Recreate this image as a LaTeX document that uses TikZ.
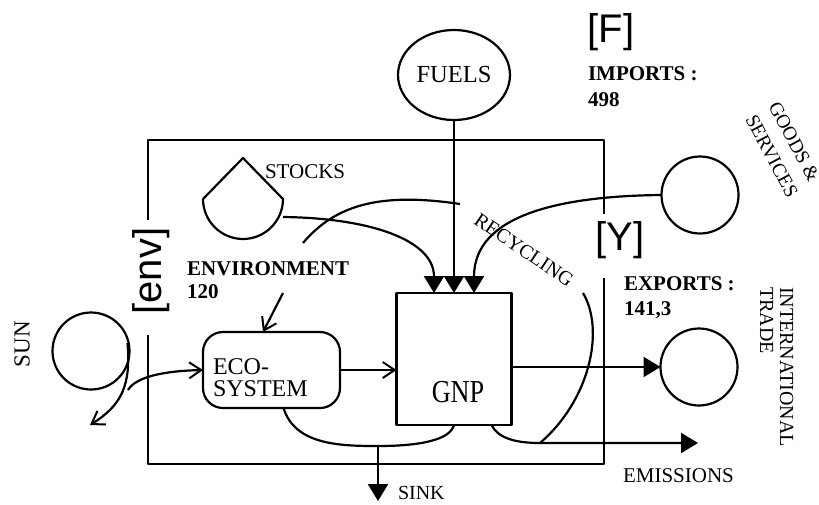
\documentclass[tikz,border=0pt]{standalone}
\usepackage{fontspec}
\usepackage{graphicx}
\setmainfont{Liberation Serif}
\newfontfamily\bracketfont{Liberation Sans}
\usetikzlibrary{arrows.meta,shapes.geometric,calc}
\tikzset{
  every node/.style={inner sep=0pt, outer sep=0pt},
  tri/.style={-{Triangle[length=17pt,width=20pt]}},
  barb/.style={-{Straight Barb[length=12pt,width=16pt,line width=2pt]}},
  rm/.style={font=\fontsize{21}{21}\selectfont},
  sm/.style={font=\fontsize{20}{20}\selectfont},
  bf/.style={font=\fontsize{21}{21}\selectfont\bfseries},
  brk/.style={font=\bracketfont\fontsize{40}{40}\selectfont},
  ring/.style={draw, circle, minimum size=77pt},
}
\begin{document}
\begin{tikzpicture}[x=1pt,y=-1pt,line width=2.2pt,line join=round]
\useasboundingbox (0,0) rectangle (819,504);

% environment boundary
\draw (148,220) -- (148,140) -- (604,140) -- (604,214);
\draw (604,278) -- (604,464) -- (148,464) -- (148,335);

% nodes
\node[draw, ellipse, minimum width=112pt, minimum height=90pt, font=\fontsize{24.5}{24.5}\selectfont] (fuels) at (454,75) {FUELS};
\node[ring] (goods) at (700,195) {};
\node[ring] (trade) at (699,367) {};
\node[ring] (sun) at (91,351) {};
\node[draw, rounded corners=20pt, minimum width=137pt, minimum height=76pt] (eco) at (271.5,370) {};
\node[draw, minimum width=115pt, minimum height=132pt] (gnp) at (454,359) {};

% stocks tank
\draw (203,199) -- (243,158) -- (283,199) .. controls (283,221) and (265,239) .. (243,239) .. controls (221,239) and (203,221) .. (203,199);
\coordinate (stockout) at (283,217);

% inputs to GNP
\coordinate (in1) at ($(gnp.north)+(-20,0)$);
\coordinate (in3) at ($(gnp.north)+(20,0)$);
\draw[tri] (stockout) .. controls (370,218) and (434,240) .. (in1);
\draw[tri] (fuels) -- (gnp.north);
\draw[tri] (goods.west) .. controls (560,196) and (474,215) .. (in3);

% recycling loop
\coordinate (recstart) at (303,243);
\coordinate (recmid) at (460,204);
\coordinate (rectop) at (583,293);
\coordinate (recend) at (540,443);
\draw (recstart) .. controls (335,205) and (380,192) .. (recmid);
\draw (rectop) .. controls (605,330) and (590,400) .. (recend);
\node[sm, rotate=-34] (recyc) at (524,250) {RECYCLING};

% emissions
\coordinate (emis0) at ($(gnp.south east)+(-20,0)$);
\coordinate (emisend) at (698,443);
\draw[tri] (emis0) .. controls (498,438) and (515,443) .. (recend) -- (emisend);

% exports
\draw[tri] (gnp.east |- trade.west) -- (trade.west);

% sink
\coordinate (sinkj) at (378,446);
\coordinate (sinkend) at (378,501);
\draw ($(eco.south)+(12,0)$) .. controls (295,445) and (340,446) .. (sinkj) .. controls (420,446) and (450,440) .. (gnp.south);
\draw[tri] (sinkj) -- (sinkend);

% eco to gnp, environment to eco
\draw[barb] (eco.east) -- (gnp.west |- eco.east);
\coordinate (envstart) at (283,293);
\coordinate (ecotop) at ($(eco.north)+(-8.5,0)$);
\draw[barb] (envstart) -- (ecotop);

% sun
\coordinate (sunout) at (90,425);
\coordinate (sunhook) at (128,390);
\draw[barb] ($(sun.east)+(-2,-8)$) .. controls (131,385) and (122,405) .. (sunout);
\draw[barb] (sunhook) .. controls (135,378) and (160,371) .. (eco.west);

% texts
\node[anchor=base west, font=\fontsize{24}{24}\selectfont] (ecot1) at (213,374) {ECO-};
\node[anchor=base west, font=\fontsize{24}{24}\selectfont] (ecot2) at (213,396) {SYSTEM};
\node[anchor=base, font=\fontsize{32}{32}\selectfont] (gnpt) at (458,402) {\scalebox{0.82}[1]{GNP}};
\node[rm, anchor=base west] (stockst) at (265,178) {STOCKS};
\node[bf, anchor=base west] (envt) at (187,275) {ENVIRONMENT};
\node[bf, anchor=base west] (envv) at (187,298) {120};
\node[bf, anchor=base west] (impt) at (588,80) {IMPORTS :};
\node[bf, anchor=base west] (impv) at (588,106) {498};
\node[bf, anchor=base west] (expt) at (624,290) {EXPORTS :};
\node[bf, anchor=base west] (expv) at (624,315) {141,3};
\node[rm, anchor=base west] (emist) at (623,482) {EMISSIONS};
\node[sm, anchor=base west] (sinkt) at (398,499) {SINK};
\node[font=\fontsize{23}{23}\selectfont, rotate=90] (sunt) at (22,344) {SUN};
\node[sm, rotate=-90, anchor=base west] (intl) at (780,287) {INTERNATIONAL};
\node[sm, rotate=-90, anchor=base west] (trd) at (760,287) {TRADE};
\node[font=\fontsize{19.5}{19.5}\selectfont, rotate=-62, anchor=base west] (goodst) at (768,106) {GOODS \&};
\node[font=\fontsize{19.5}{19.5}\selectfont, rotate=-62, anchor=base west] (servt) at (745,119) {SERVICES};
\node[brk] (ft) at (611,32) {[F]};
\node[brk] (yt) at (620,240) {[Y]};
\node[brk, rotate=90] (envl) at (151,271) {[env]};
\end{tikzpicture}
\end{document}
